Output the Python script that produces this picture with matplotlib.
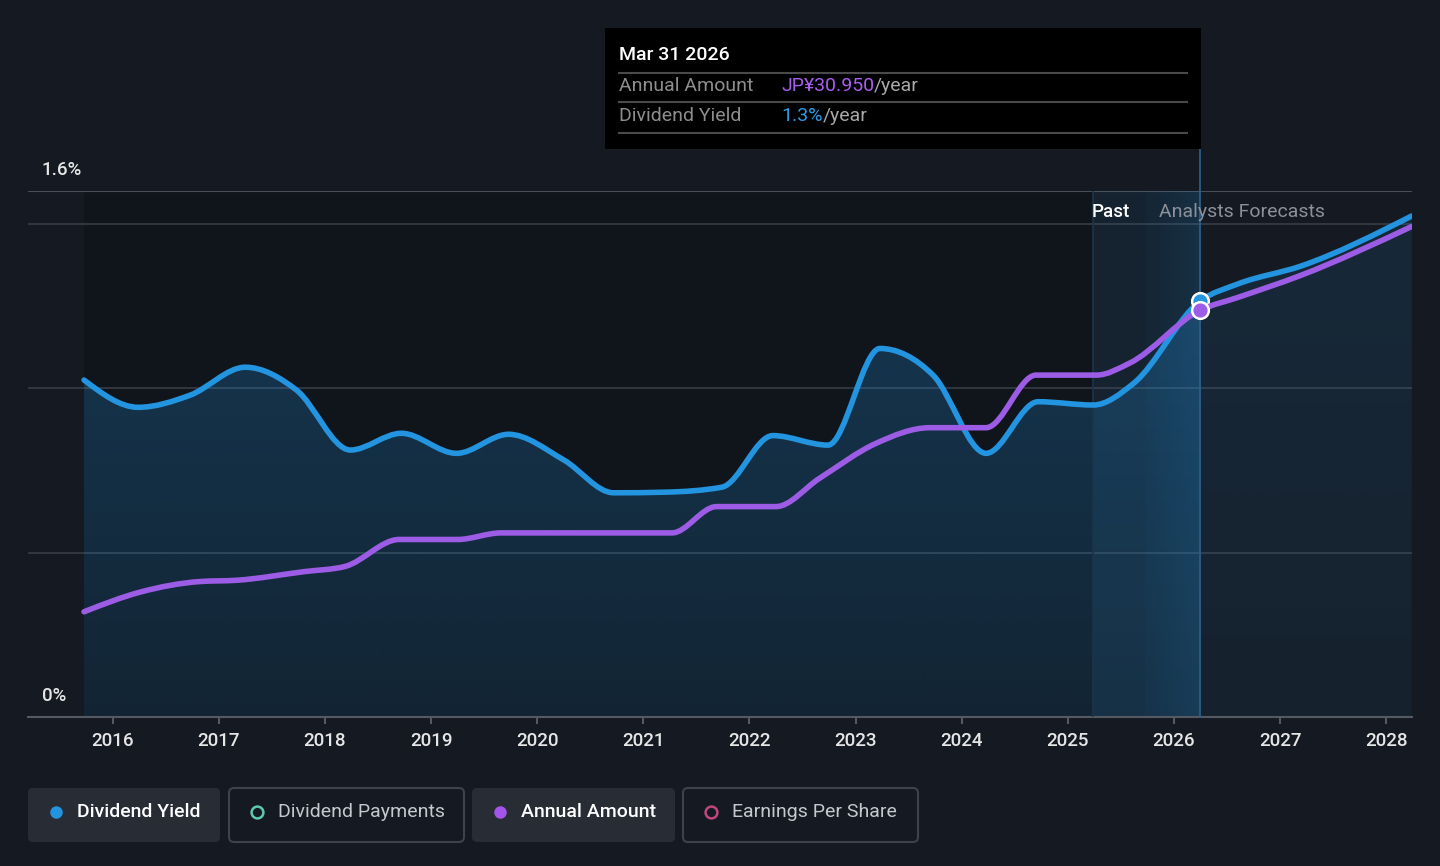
import numpy as np
import matplotlib
matplotlib.use("Agg")
import matplotlib.pyplot as plt
from matplotlib.path import Path
from matplotlib.patches import PathPatch, FancyBboxPatch, Rectangle
from matplotlib.colors import to_rgb
import matplotlib.transforms as mtransforms

plt.rcParams['font.family'] = ['Roboto', 'DejaVu Sans']

# ---- data ----
yield_years = [2015.73, 2016.24, 2016.73, 2017.25, 2017.73, 2018.24, 2018.72, 2019.24,
               2019.73, 2020.25, 2020.72, 2021.22, 2021.74, 2022.22, 2022.74, 2023.23,
               2023.73, 2024.23, 2024.72, 2025.24, 2025.62, 2026.25, 2026.6, 2027.2, 2028.24]
yield_pct = [1.025, 0.942, 0.979, 1.064, 0.995, 0.812, 0.863, 0.802,
             0.860, 0.782, 0.682, 0.684, 0.699, 0.856, 0.827, 1.121,
             1.040, 0.802, 0.959, 0.949, 1.015, 1.266, 1.317, 1.372, 1.524]

amount_years = [2015.73, 2016.26, 2016.82, 2017.17, 2017.8, 2018.19, 2018.7, 2019.25,
                2019.66, 2021.27, 2021.69, 2022.25, 2022.66, 2023.19, 2023.7, 2024.23,
                2024.7, 2025.27, 2025.58, 2026.25, 2026.6, 2027.2, 2028.24]
annual_amount = [8.0, 9.5, 10.3, 10.4, 11.05, 11.45, 13.5, 13.5,
                 14.0, 14.0, 16.0, 16.0, 18.15, 20.8, 22.0, 22.0,
                 26.0, 26.0, 26.9, 30.95, 31.9, 33.6, 37.3]

year_ticks = list(range(2016, 2029))
past_start = 2025.24
today = 2026.25
tooltip_date = "Mar 31 2026"
tooltip_amount = "JP¥30.950"
tooltip_yield = "1.3%"
legend_items = ["Dividend Yield", "Dividend Payments", "Annual Amount", "Earnings Per Share"]

BG = "#151a22"
BLUE = "#2394df"
PURPLE = "#9d5ce6"
GRID = "#383c44"
MED = 500


def monotone_path(x, y):
    # d3 curveMonotoneX style bezier through the points
    x = np.asarray(x, float)
    y = np.asarray(y, float)
    n = len(x)
    h = np.diff(x)
    s = np.diff(y) / h
    t = np.zeros(n)
    for i in range(1, n - 1):
        if s[i - 1] * s[i] <= 0:
            t[i] = 0.0
        else:
            p = (s[i - 1] * h[i] + s[i] * h[i - 1]) / (h[i - 1] + h[i])
            t[i] = (np.sign(s[i - 1]) + np.sign(s[i])) * min(abs(s[i - 1]), abs(s[i]), 0.5 * abs(p))
    t[0] = (3 * s[0] - t[1]) / 2
    t[-1] = (3 * s[-1] - t[-2]) / 2
    verts = [(x[0], y[0])]
    codes = [Path.MOVETO]
    for i in range(n - 1):
        d = h[i] / 3
        verts += [(x[i] + d, y[i] + t[i] * d), (x[i + 1] - d, y[i + 1] - t[i + 1] * d), (x[i + 1], y[i + 1])]
        codes += [Path.CURVE4] * 3
    return verts, codes


fig = plt.figure(figsize=(14.4, 8.66), dpi=100)
fig.patch.set_facecolor(BG)

W, H = 1440, 866
ax = fig.add_axes([28 / W, 1 - 717 / H, (1412 - 28) / W, (717 - 191) / H])
ax.set_facecolor(BG)
xmin, xmax = 2015.202, 2028.243
ax.set_xlim(xmin, xmax)
ax.set_ylim(0, 1.6)

# darker past region
ax.add_patch(Rectangle((yield_years[0], 0), past_start - yield_years[0], 1.6,
                       facecolor="#000000", alpha=0.2, edgecolor="none", zorder=0))

# grid lines
for g in [0.5, 1.0, 1.5]:
    ax.axhline(g, color=GRID, lw=1.2, zorder=1)
ax.axhline(1.6, color="#4a4e55", lw=1.5, zorder=1)

# area under dividend yield with vertical gradient
verts, codes = monotone_path(yield_years, yield_pct)
fverts = verts + [(yield_years[-1], 0), (yield_years[0], 0), (yield_years[0], yield_pct[0])]
fcodes = codes + [Path.LINETO, Path.LINETO, Path.CLOSEPOLY]
area = PathPatch(Path(fverts, fcodes), facecolor="none", edgecolor="none")
ax.add_patch(area)

rgb = to_rgb(BLUE)
ny = 200
grad = np.zeros((ny, 2, 4))
grad[..., :3] = rgb
grad[..., 3] = np.linspace(0.30, 0.13, ny)[:, None]
im = ax.imshow(grad, extent=[yield_years[0], today, 0, 1.6], origin="upper",
               aspect="auto", zorder=2, interpolation="bilinear")
im.set_clip_path(area)
grad2 = grad.copy()
grad2[..., 3] = np.linspace(0.13, 0.06, ny)[:, None]
im2 = ax.imshow(grad2, extent=[today, yield_years[-1], 0, 1.6], origin="upper",
                aspect="auto", zorder=2, interpolation="bilinear")
im2.set_clip_path(area)

# highlighted band between past and today
ax.add_patch(Rectangle((past_start, 0), today - past_start, 1.6, facecolor=BLUE,
                       alpha=0.07, edgecolor="none", zorder=2.5))
hgrad = np.zeros((2, 100, 4))
hgrad[..., :3] = rgb
hgrad[..., 3] = np.linspace(0.03, 0.13, 100)[None, :]
mid = past_start + (today - past_start) * 0.48
ax.imshow(hgrad, extent=[mid, today, 0, 1.6], origin="upper", aspect="auto",
          zorder=2.5, interpolation="bilinear")
ax.axvline(past_start, color="#1c3448", lw=1.2, zorder=2.6)
ax.plot([today, today], [0, 1.75], color="#2d5d85", lw=1.3, zorder=2.6, clip_on=False)
ax.set_xlim(xmin, xmax)
ax.set_ylim(0, 1.6)

# lines
ax.add_patch(PathPatch(Path(verts, codes), facecolor="none", edgecolor=BLUE, lw=4,
                       capstyle="round", joinstyle="round", zorder=4))
ax.plot([today], [yield_pct[yield_years.index(today)]], marker="o", ms=12,
        mfc=BLUE, mec="white", mew=1.8, zorder=5)

ax2 = ax.twinx()
ax2.set_ylim(0, 40)
ax2.set_xlim(xmin, xmax)
ax2.axis("off")
pverts, pcodes = monotone_path(amount_years, annual_amount)
ax2.add_patch(PathPatch(Path(pverts, pcodes), facecolor="none", edgecolor=PURPLE, lw=4,
                        capstyle="round", joinstyle="round", zorder=4))
ax2.plot([today], [annual_amount[amount_years.index(today)]], marker="o", ms=12,
         mfc=PURPLE, mec="white", mew=1.8, zorder=5)

# axes styling
for sp in ["top", "right", "left"]:
    ax.spines[sp].set_visible(False)
ax.spines["bottom"].set_color("#555a62")
ax.spines["bottom"].set_linewidth(1.5)
ax.set_yticks([])
ax.set_xticks(year_ticks)
ax.set_xticklabels([str(y) for y in year_ticks], fontweight=MED)
ax.tick_params(axis="x", colors="#555a62", length=5, width=1.5, pad=6, labelsize=13.5,
               labelcolor="#e6e6e6")

trans = mtransforms.blended_transform_factory(ax.transAxes, ax.transData)
ax.annotate("1.6%", xy=(0, 1.6), xycoords=trans, xytext=(10, 15), textcoords="offset points",
            color="#e6e6e6", fontsize=13.5, va="center", ha="left", fontweight=MED)
ax.annotate("0%", xy=(0, 0), xycoords=trans, xytext=(10, 15), textcoords="offset points",
            color="#e6e6e6", fontsize=13.5, va="center", ha="left", fontweight=MED)

ax.text(2025.585, 1.535, "Past", color="white", fontsize=13.5, ha="right", va="center",
        zorder=6, fontweight=MED)
ax.text(2025.86, 1.535, "Analysts Forecasts", color="#8b9099", fontsize=14,
        ha="left", va="center", zorder=6)

# overlay in pixel coordinates for tooltip and legend
ov = fig.add_axes([0, 0, 1, 1], zorder=10)
ov.set_xlim(0, W)
ov.set_ylim(H, 0)
ov.axis("off")
ov.patch.set_visible(False)

ov.add_patch(Rectangle((605, 28), 596, 121, facecolor="black", edgecolor="none"))
ov.text(619, 55, tooltip_date, color="white", fontsize=14, va="center", ha="left", fontweight=MED)
for ly in [73, 102, 133]:
    ov.plot([619, 1187], [ly, ly], color="#4a4a4a", lw=1.5)
ov.text(619, 86, "Annual Amount", color="#8e8e8e", fontsize=14, va="center")
ov.text(619, 116, "Dividend Yield", color="#8e8e8e", fontsize=14, va="center")
t1 = ov.text(781, 86, tooltip_amount, color="#a75ff0", fontsize=14, va="center")
t2 = ov.text(781, 116, tooltip_yield, color="#2e9be6", fontsize=14, va="center")
fig.canvas.draw()
r = fig.canvas.get_renderer()
ov.text(t1.get_window_extent(r).x1, 86, "/year", color="#a8a8a8", fontsize=14, va="center")
ov.text(t2.get_window_extent(r).x1, 116, "/year", color="#a8a8a8", fontsize=14, va="center")

# legend buttons
buttons = [(28, 220, True, BLUE, True), (229, 464, False, "#5cc9b0", False),
           (472, 675, True, "#a355ea", True), (683, 918, False, "#c2467e", False)]
for (x0, x1, filled, col, dot_fill), label in zip(buttons, legend_items):
    ov.add_patch(FancyBboxPatch((x0, 788), x1 - x0, 54,
                                boxstyle="round,pad=0,rounding_size=5",
                                facecolor="#272c35" if filled else "none",
                                edgecolor="none" if filled else "#3d424b", lw=1.5))
    ov.plot([x0 + 28], [812], marker="o", ms=9 if dot_fill else 8.5,
            mfc=col if dot_fill else "none", mec=col, mew=0 if dot_fill else 1.8)
    ov.text(x0 + 49, 812, label, fontsize=14, va="center", ha="left",
            color="white" if filled else "#c5c8ce", fontweight=MED if filled else "normal")

fig.savefig("out.png", dpi=100, facecolor=BG)
